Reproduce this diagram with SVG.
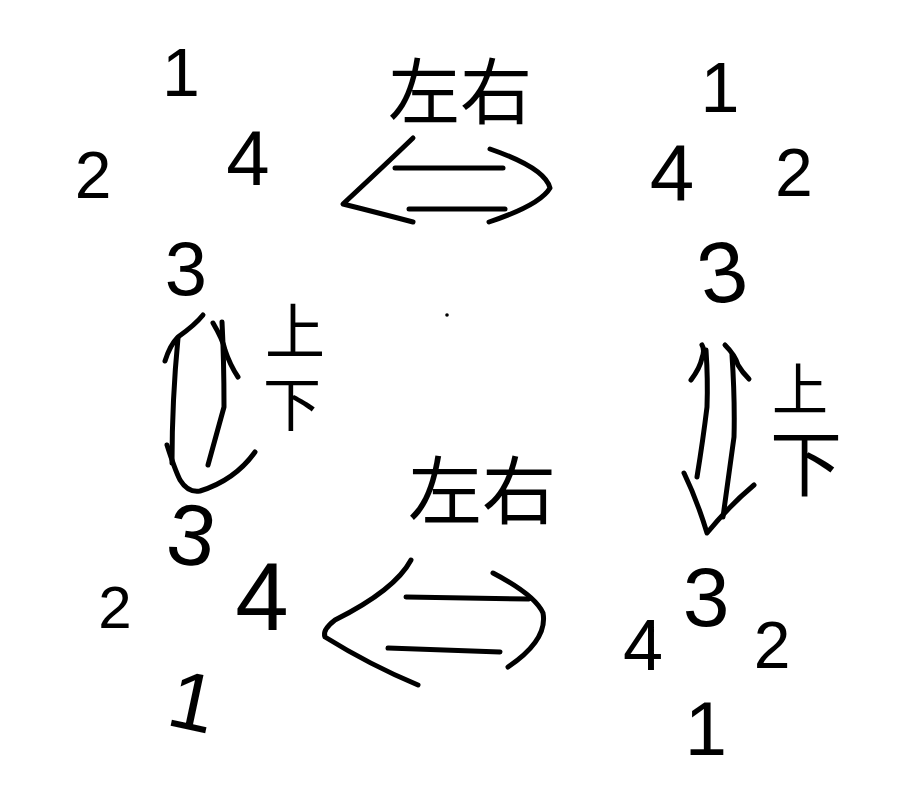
<svg xmlns="http://www.w3.org/2000/svg" width="898" height="806" viewBox="0 0 898 806">
<style>
.d{font-family:"Liberation Sans","DejaVu Sans",sans-serif;fill:#000;text-anchor:middle}
.c{font-family:"Liberation Sans","Noto Sans CJK SC",sans-serif;fill:#000;text-anchor:middle}
.s{fill:none;stroke:#000;stroke-width:5;stroke-linecap:round;stroke-linejoin:round}
</style>
<rect width="898" height="806" fill="#fff"/>
<g id="state-top-left">
<text class="d" x="181" y="96" font-size="68">1</text>
<text class="d" x="93" y="198" font-size="66">2</text>
<text class="d" x="248" y="185" font-size="78">4</text>
<text class="d" x="186" y="295" font-size="76">3</text>
</g>
<g id="state-top-right">
<text class="d" x="720" y="112" font-size="70">1</text>
<text class="d" x="672" y="200" font-size="80">4</text>
<text class="d" x="794" y="196" font-size="68">2</text>
<text class="d" x="722" y="302" font-size="86" transform="rotate(-10 722 272)">3</text>
</g>
<g id="state-bottom-left">
<text class="d" x="192" y="565" font-size="86" transform="rotate(8 192 532)">3</text>
<text class="d" x="115" y="628" font-size="60">2</text>
<text class="d" x="262" y="630" font-size="96">4</text>
<text class="d" x="193" y="730" font-size="82" transform="rotate(12 193 700)">1</text>
</g>
<g id="state-bottom-right">
<text class="d" x="706" y="626" font-size="84">3</text>
<text class="d" x="643" y="670" font-size="72">4</text>
<text class="d" x="772" y="668" font-size="66">2</text>
<text class="d" x="706" y="755" font-size="76">1</text>
</g>
<g id="connectors">
<g id="flip-lr-top">
<path class="s" d="M413 138 Q385 165 343 204 Q375 212 413 222"/>
<path class="s" d="M490 149 Q545 168 550 188 Q540 205 489 222"/>
<path class="s" d="M395 168 L503 168"/>
<path class="s" d="M409 209 L505 209"/>
<text class="c" x="460" y="118" font-size="72">左右</text>
</g>
<g id="flip-ud-left">
<path class="s" d="M165 361 Q170 345 178 337 Q195 325 203 315"/>
<path class="s" d="M178 338 Q172 400 172 463"/>
<path class="s" d="M167 445 Q175 470 180 480 Q188 493 200 491 Q235 480 255 452"/>
<path class="s" d="M213 323 Q223 340 225 350 Q230 365 238 377"/>
<path class="s" d="M222 322 Q224 360 224 407 Q215 440 208 465"/>
<text class="c" x="295" y="354" font-size="60">上</text>
<text class="c" x="292" y="426" font-size="58">下</text>
</g>
<g id="flip-ud-right">
<path class="s" d="M691 380 Q700 368 702 358 Q705 350 702 345"/>
<path class="s" d="M706 350 Q708 380 707 407 Q703 440 697 477"/>
<path class="s" d="M725 345 Q735 355 738 365 Q742 372 749 379"/>
<path class="s" d="M732 355 Q735 400 734 437 Q728 480 723 517"/>
<path class="s" d="M684 473 Q697 500 707 533 Q730 505 754 485"/>
<text class="c" x="800" y="410" font-size="56">上</text>
<text class="c" x="806" y="490" font-size="72">下</text>
</g>
<g id="flip-lr-bottom">
<path class="s" d="M411 560 Q395 590 335 620 Q322 630 325 637 Q370 665 418 685"/>
<path class="s" d="M493 573 Q535 595 543 613 Q548 640 508 667"/>
<path class="s" d="M406 597 L529 599"/>
<path class="s" d="M388 648 Q450 650 500 652"/>
<text class="c" x="482" y="518" font-size="74">左右</text>
</g>
</g>
<circle cx="447" cy="315" r="1.8" fill="#000"/>
</svg>
